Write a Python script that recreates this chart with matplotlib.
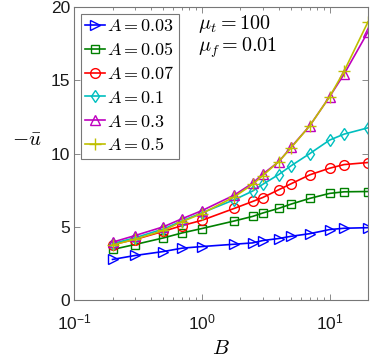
import matplotlib
matplotlib.use("Agg")
import matplotlib.pyplot as plt
from matplotlib.ticker import LogLocator, NullFormatter

plt.rcParams['font.family'] = ['Liberation Sans', 'DejaVu Sans']
plt.rcParams['mathtext.fontset'] = 'cm'

B = [0.2, 0.3, 0.5, 0.7, 1.0, 1.8, 2.5, 3.0, 4.0, 5.0, 7.0, 10.0, 13.0, 20.0]
u_003 = [2.77, 3.04, 3.31, 3.54, 3.65, 3.81, 3.90, 4.06, 4.20, 4.35, 4.53, 4.81, 4.90, 4.94]
u_005 = [3.45, 3.79, 4.24, 4.58, 4.88, 5.40, 5.71, 5.94, 6.26, 6.55, 6.94, 7.28, 7.39, 7.41]
u_007 = [3.79, 4.13, 4.69, 5.08, 5.44, 6.26, 6.73, 7.00, 7.53, 7.94, 8.55, 9.00, 9.25, 9.39]
u_01 = [3.85, 4.25, 4.85, 5.40, 5.95, 6.85, 7.44, 7.90, 8.57, 9.17, 10.00, 10.92, 11.33, 11.76]
u_03 = [3.95, 4.40, 5.00, 5.55, 6.10, 7.17, 7.98, 8.60, 9.44, 10.44, 11.90, 13.88, 15.43, 18.32]
u_05 = [3.75, 4.15, 4.75, 5.35, 5.90, 7.05, 7.90, 8.50, 9.45, 10.40, 11.90, 13.88, 15.63, 19.00]

labels = ['$A=0.03$', '$A=0.05$', '$A=0.07$', '$A=0.1$', '$A=0.3$', '$A=0.5$']
series = [u_003, u_005, u_007, u_01, u_03, u_05]
colors = ['#0000FF', '#008000', '#FF0000', '#00BFBF', '#BF00BF', '#BFBF00']
markers = ['>', 's', 'o', 'd', '^', '+']
msizes = [7, 5.5, 7, 6, 7, 8]

fig = plt.figure(figsize=(3.74, 3.58), dpi=100)
ax = fig.add_axes([0.198, 0.162, 0.786, 0.818])

for y, lab, c, m, ms in zip(series, labels, colors, markers, msizes):
    ax.plot(B, y, color=c, marker=m, markerfacecolor='none', markeredgecolor=c,
            markersize=ms, linewidth=1.2, markeredgewidth=1.0, label=lab)

ax.set_xscale('log')
ax.set_xlim(0.1, 20)
ax.set_ylim(0, 20)
ax.set_yticks([0, 5, 10, 15, 20])
ax.xaxis.set_major_locator(LogLocator(base=10, numticks=10))
ax.xaxis.set_minor_locator(LogLocator(base=10, subs=range(2, 10), numticks=10))
ax.xaxis.set_minor_formatter(NullFormatter())

edge = '#777777'
for s in ax.spines.values():
    s.set_color(edge)
    s.set_linewidth(0.8)
ax.tick_params(which='both', direction='in', top=True, right=True, color=edge,
               labelsize=12.5, labelcolor='#1a1a1a')
ax.tick_params(axis='y', pad=3)
ax.tick_params(axis='x', pad=9)
ax.tick_params(which='major', length=4, width=0.6)
ax.tick_params(which='minor', length=2.5, width=0.6)

ax.set_xlabel('$B$', fontsize=15, labelpad=5)
ax.set_ylabel(r'$-\bar{u}$', fontsize=15, rotation=0, va='center', ha='center')
ax.yaxis.set_label_coords(-0.16, 0.545)

leg = ax.legend(loc='upper left', bbox_to_anchor=(0.022, 0.978), fontsize=13,
                frameon=True, fancybox=False, edgecolor='#777777', framealpha=1,
                handlelength=1.1, handletextpad=0.1, borderpad=0.25,
                labelspacing=0.38, borderaxespad=0)
leg.get_frame().set_linewidth(0.8)

ax.text(0.42, 0.942, r'$\mu_t=100$', transform=ax.transAxes, fontsize=14.5,
        va='center', ha='left')
ax.text(0.42, 0.862, r'$\mu_f=0.01$', transform=ax.transAxes, fontsize=14.5,
        va='center', ha='left')

fig.savefig('out.png', dpi=100)
